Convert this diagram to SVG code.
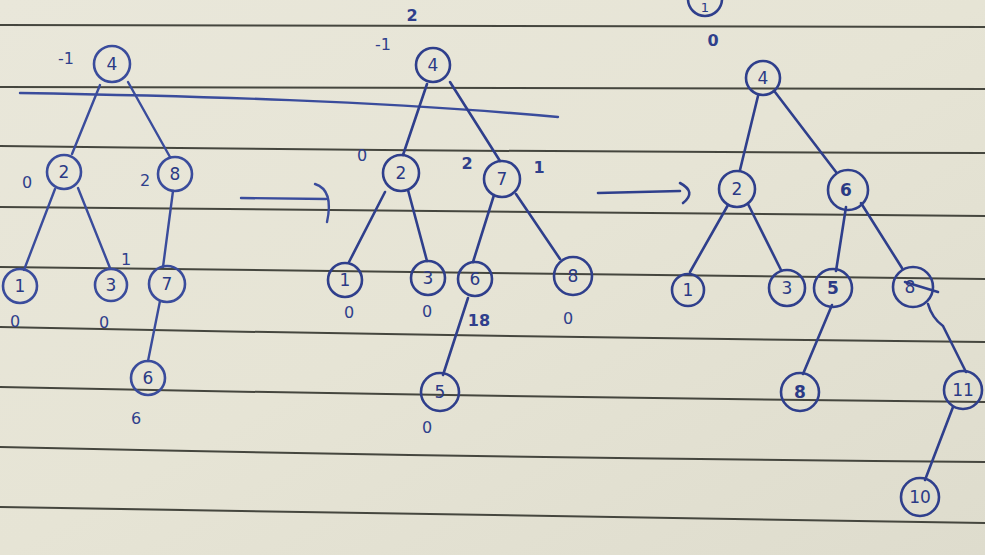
<svg xmlns="http://www.w3.org/2000/svg" width="985" height="555" viewBox="0 0 985 555">
<defs>
<linearGradient id="paper" x1="0" y1="0" x2="1" y2="1">
<stop offset="0" stop-color="#e9e7da"/>
<stop offset="0.5" stop-color="#e6e4d5"/>
<stop offset="1" stop-color="#dedccd"/>
</linearGradient>
</defs>
<style>
.rule{stroke:#45463e;stroke-width:2;fill:none}
.ink{stroke:#2f3f8c;stroke-width:2.6;fill:none;stroke-linecap:round}
.ink1{stroke:#3a4c9c;stroke-width:2.4;fill:none;stroke-linecap:round}
.node circle,.node ellipse{stroke:#2f3f8c;stroke-width:2.6;fill:none}
.t1 circle,.t1 ellipse{stroke:#3a4c9c}
.lbl{font-family:"DejaVu Sans",sans-serif;font-size:17px;fill:#2b3a85;text-anchor:middle;dominant-baseline:central}
.ann{font-family:"DejaVu Sans",sans-serif;font-size:16px;fill:#2f3f8c;text-anchor:middle;dominant-baseline:central}
.bold{font-weight:bold}
</style>
<rect width="985" height="555" fill="url(#paper)"/>
<g id="rules">
<path class="rule" d="M0 25 Q490 27 985 27"/>
<path class="rule" d="M0 87 Q490 90 985 89"/>
<path class="rule" d="M0 146 Q490 152 985 153"/>
<path class="rule" d="M0 207 Q490 213 985 216"/>
<path class="rule" d="M0 267 Q490 275 985 279"/>
<path class="rule" d="M0 327 Q490 337 985 342"/>
<path class="rule" d="M0 387 Q490 397 985 402"/>
<path class="rule" d="M0 447 Q490 458 985 462"/>
<path class="rule" d="M0 507 Q490 517 985 523"/>
</g>
<g id="connectors">
<path class="ink1" d="M20 93 C200 96 380 101 558 117"/>
<path class="ink1" d="M100 85 L72 154"/>
<path class="ink1" d="M128 82 L170 157"/>
<path class="ink1" d="M55 189 L24 270"/>
<path class="ink1" d="M78 188 L110 268"/>
<path class="ink1" d="M173 191 L163 267"/>
<path class="ink1" d="M160 301 L148 361"/>
<path class="ink1" d="M241 198 L326 199"/>
<path class="ink1" d="M315 184 Q334 190 327 222"/>
<path class="ink" d="M427 84 L403 155"/>
<path class="ink" d="M450 82 L500 161"/>
<path class="ink" d="M385 192 L349 262"/>
<path class="ink" d="M408 190 L427 261"/>
<path class="ink" d="M494 195 L473 262"/>
<path class="ink" d="M516 194 L560 259"/>
<path class="ink" d="M468 298 L443 375"/>
<path class="ink" d="M598 193 L680 191"/>
<path class="ink" d="M680 183 Q697 192 683 203"/>
<path class="ink" d="M758 96 L740 170"/>
<path class="ink" d="M775 92 L836 172"/>
<path class="ink" d="M728 205 L690 272"/>
<path class="ink" d="M748 204 L781 270"/>
<path class="ink" d="M846 207 L836 271"/>
<path class="ink" d="M861 203 L902 268"/>
<path class="ink" d="M832 305 L803 374"/>
<path class="ink" d="M928 304 Q932 318 943 326 L966 372"/>
<path class="ink" d="M905 282 L938 292"/>
<path class="ink" d="M953 407 L925 480"/>
</g>
<g id="t1-n4" class="node t1"><circle cx="112" cy="64" r="18"/><text class="lbl" x="112" y="64">4</text></g>
<g id="t1-n2" class="node t1"><circle cx="64" cy="172" r="17"/><text class="lbl" x="64" y="172">2</text></g>
<g id="t1-n8" class="node t1"><circle cx="175" cy="174" r="17"/><text class="lbl" x="175" y="174">8</text></g>
<g id="t1-n1" class="node t1"><circle cx="20" cy="286" r="17"/><text class="lbl" x="20" y="286">1</text></g>
<g id="t1-n3" class="node t1"><circle cx="111" cy="285" r="16"/><text class="lbl" x="111" y="285">3</text></g>
<g id="t1-n7" class="node t1"><circle cx="167" cy="284" r="18"/><text class="lbl" x="167" y="284">7</text></g>
<g id="t1-n6" class="node t1"><circle cx="148" cy="378" r="17"/><text class="lbl" x="148" y="378">6</text></g>
<g id="t1-labels">
<text class="ann" x="66" y="58">-1</text>
<text class="ann" x="27" y="182">0</text>
<text class="ann" x="145" y="180">2</text>
<text class="ann" x="126" y="259">1</text>
<text class="ann" x="15" y="321">0</text>
<text class="ann" x="104" y="322">0</text>
<text class="ann" x="136" y="418">6</text>
</g>
<g id="t2-n4" class="node"><circle cx="433" cy="65" r="17"/><text class="lbl" x="433" y="65">4</text></g>
<g id="t2-n2" class="node"><circle cx="401" cy="173" r="18"/><text class="lbl" x="401" y="173">2</text></g>
<g id="t2-n7" class="node"><circle cx="502" cy="179" r="18"/><text class="lbl" x="502" y="179">7</text></g>
<g id="t2-n1" class="node"><circle cx="345" cy="280" r="17"/><text class="lbl" x="345" y="280">1</text></g>
<g id="t2-n3" class="node"><circle cx="428" cy="278" r="17"/><text class="lbl" x="428" y="278">3</text></g>
<g id="t2-n6" class="node"><circle cx="475" cy="279" r="17"/><text class="lbl" x="475" y="279">6</text></g>
<g id="t2-n8" class="node"><circle cx="573" cy="276" r="19"/><text class="lbl" x="573" y="276">8</text></g>
<g id="t2-n5" class="node"><circle cx="440" cy="392" r="19"/><text class="lbl" x="440" y="392">5</text></g>
<g id="t2-labels">
<text class="ann" x="383" y="44">-1</text>
<text class="ann bold" x="412" y="15">2</text>
<text class="ann" x="362" y="155">0</text>
<text class="ann bold" x="467" y="163">2</text>
<text class="ann bold" x="539" y="167">1</text>
<text class="ann" x="349" y="312">0</text>
<text class="ann" x="427" y="311">0</text>
<text class="ann bold" x="479" y="320">18</text>
<text class="ann" x="568" y="318">0</text>
<text class="ann" x="427" y="427">0</text>
</g>
<g id="t3-n1top" class="node"><circle cx="705" cy="-1" r="17"/><text class="lbl" x="705" y="7" style="font-size:13px">1</text></g>
<g id="t3-n4" class="node"><circle cx="763" cy="78" r="17"/><text class="lbl" x="763" y="78">4</text></g>
<g id="t3-n2" class="node"><circle cx="737" cy="189" r="18"/><text class="lbl" x="737" y="189">2</text></g>
<g id="t3-n6" class="node"><circle cx="848" cy="190" r="20"/><text class="lbl bold" x="846" y="190">6</text></g>
<g id="t3-n1" class="node"><circle cx="688" cy="290" r="16"/><text class="lbl" x="688" y="290">1</text></g>
<g id="t3-n3" class="node"><circle cx="787" cy="288" r="18"/><text class="lbl" x="787" y="288">3</text></g>
<g id="t3-n5" class="node"><circle cx="833" cy="288" r="19"/><text class="lbl bold" x="833" y="288">5</text></g>
<g id="t3-n8" class="node"><circle cx="913" cy="287" r="20"/><text class="lbl" x="910" y="287">8</text></g>
<g id="t3-n8b" class="node"><circle cx="800" cy="392" r="19"/><text class="lbl bold" x="800" y="392">8</text></g>
<g id="t3-n11" class="node"><circle cx="963" cy="390" r="19"/><text class="lbl" x="963" y="390">11</text></g>
<g id="t3-n10" class="node"><circle cx="920" cy="497" r="19"/><text class="lbl" x="920" y="497">10</text></g>
<g id="t3-labels">
<text class="ann bold" x="713" y="40">0</text>
</g>
</svg>
